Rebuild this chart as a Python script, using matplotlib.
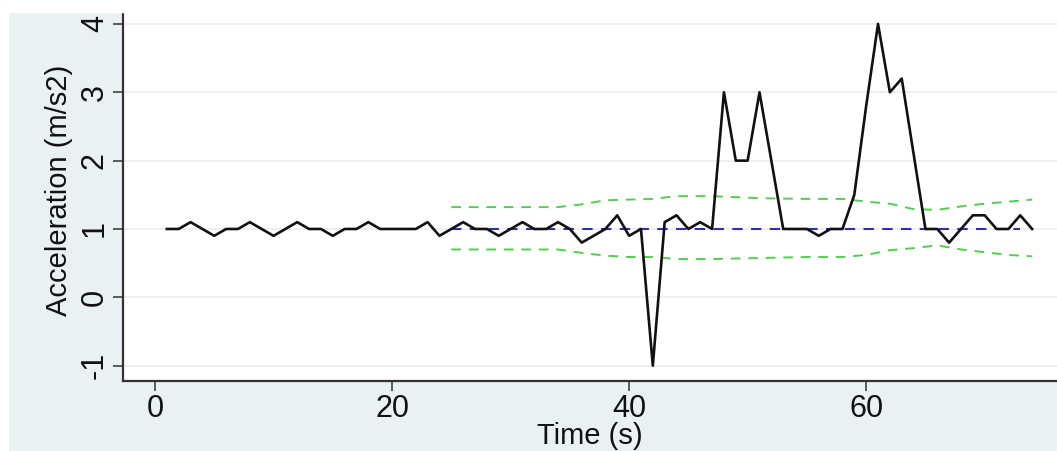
import numpy as np
import matplotlib
matplotlib.use("Agg")
import matplotlib.pyplot as plt
from matplotlib.patches import Rectangle

# ---- data ----
time = list(range(1, 75))
accel = [1.0, 1.0, 1.1, 1.0, 0.9, 1.0, 1.0, 1.1, 1.0, 0.9,
         1.0, 1.1, 1.0, 1.0, 0.9, 1.0, 1.0, 1.1, 1.0, 1.0,
         1.0, 1.0, 1.1, 0.9, 1.0, 1.1, 1.0, 1.0, 0.9, 1.0,
         1.1, 1.0, 1.0, 1.1, 1.0, 0.8, 0.9, 1.0, 1.2, 0.9,
         1.0, -1.0, 1.1, 1.2, 1.0, 1.1, 1.0, 3.0, 2.0, 2.0,
         3.0, 2.0, 1.0, 1.0, 1.0, 0.9, 1.0, 1.0, 1.5, 2.8,
         4.0, 3.0, 3.2, 2.1, 1.0, 1.0, 0.8, 1.0, 1.2, 1.2,
         1.0, 1.0, 1.2, 1.0]

mean_t = list(range(25, 74))
mean_v = [1.0] * len(mean_t)

band_t = [25, 28, 31, 34, 36, 38, 40, 42, 44, 47, 51, 55, 58, 60, 62, 64, 66, 68, 70, 72, 74]
upper = [1.32, 1.32, 1.32, 1.32, 1.36, 1.42, 1.43, 1.44, 1.48, 1.48, 1.45, 1.44, 1.44, 1.40, 1.37, 1.29, 1.28, 1.33, 1.37, 1.40, 1.43]
lower = [0.70, 0.70, 0.70, 0.70, 0.65, 0.61, 0.59, 0.59, 0.56, 0.56, 0.575, 0.59, 0.59, 0.62, 0.69, 0.72, 0.76, 0.70, 0.66, 0.62, 0.60]

xticks = [0, 20, 40, 60]
yticks = [-1, 0, 1, 2, 3, 4]

# ---- figure ----
plt.rcParams["font.family"] = ["Liberation Sans", "DejaVu Sans"]
plt.rcParams["axes.unicode_minus"] = False

W, H = 1057, 451
AX_L, AX_B = 123, 381  # plot region left edge / bottom edge in pixels
fig = plt.figure(figsize=(W / 100, H / 100), dpi=100, facecolor="#EAF1F3")

# white margins at top and left (cropped original)
fig.patches.append(Rectangle((0, 0), 8 / W, 1, transform=fig.transFigure, color="white", zorder=0))
fig.patches.append(Rectangle((0, 1 - 12 / H), 1, 12 / H, transform=fig.transFigure, color="white", zorder=0))

ax = fig.add_axes([AX_L / W, (H - AX_B) / H, (W - AX_L) / W, AX_B / H])
ax.set_facecolor("white")

ax.plot(band_t, upper, color="#4FD04F", lw=1.4, dashes=(5, 4), zorder=2)
ax.plot(band_t, lower, color="#4FD04F", lw=1.4, dashes=(5, 4), zorder=2)
ax.plot(mean_t, mean_v, color="#2E2EB8", lw=1.5, dashes=(5, 4), zorder=3)
ax.plot(time, accel, color="#111111", lw=1.9, zorder=4)

ax.set_xlim(-2.7, 76.1)
ax.set_ylim(-1.224, 4.35)
ax.set_xticks(xticks)
ax.set_yticks(yticks)
ax.grid(axis="y", color="#EEEEEE", lw=1.3)
ax.set_axisbelow(True)

for s in ["top", "right"]:
    ax.spines[s].set_visible(False)
for s in ["left", "bottom"]:
    ax.spines[s].set_color("#333333")
    ax.spines[s].set_linewidth(1.6)

ax.tick_params(axis="both", direction="out", length=7.5, width=1.1, color="#333333",
               labelsize=22, labelcolor="#111111", pad=2)
for lab in ax.get_yticklabels():
    lab.set_rotation(90)
    lab.set_va("center")

ax.set_xlabel("Time (s)", fontsize=21, color="#111111", va="bottom")
# x title bottom sits 1 px above the lower edge of the image
ax.xaxis.set_label_coords(0.5, -((H - AX_B) - 1) / AX_B)
ax.set_ylabel("Acceleration (m/s2)", fontsize=21, color="#111111", labelpad=5)

fig.savefig("out.png", dpi=100, facecolor=fig.get_facecolor())
